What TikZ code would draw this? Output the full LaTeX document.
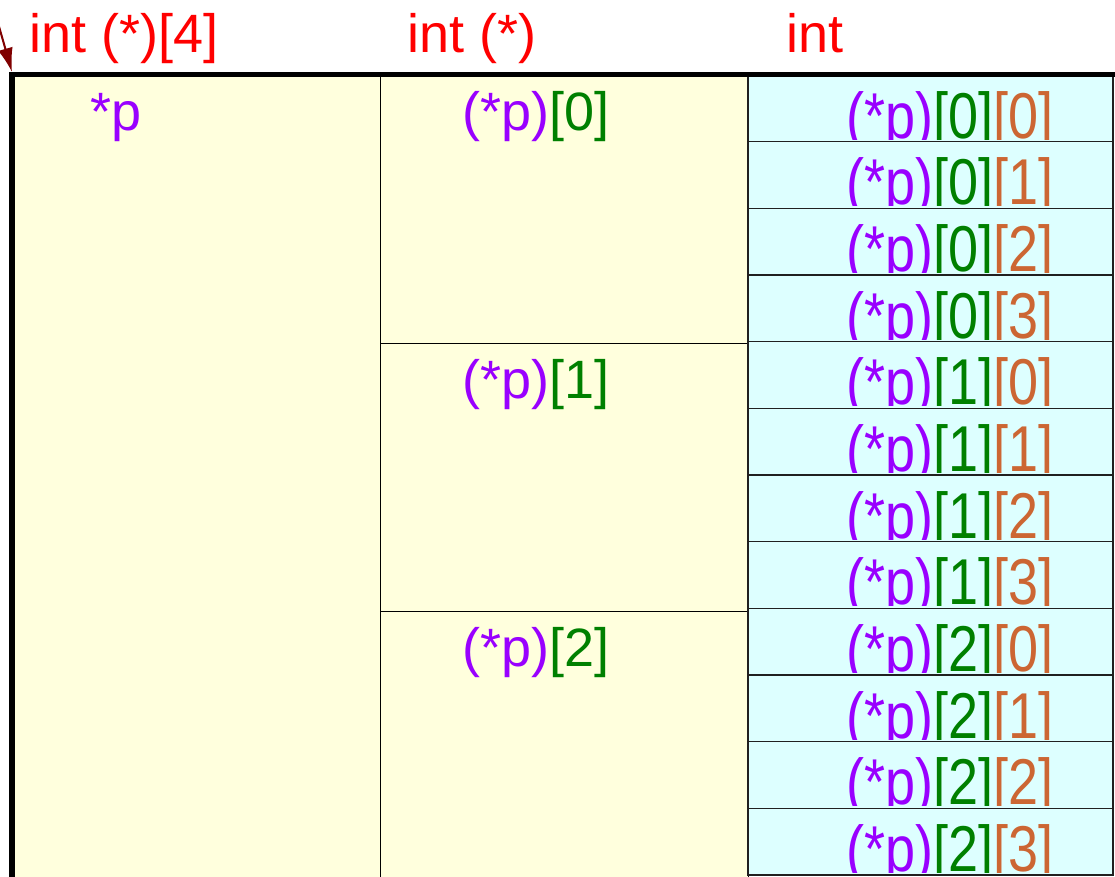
\documentclass[tikz,border=0pt]{standalone}
\usepackage{fontspec}
\setmainfont{Liberation Sans}
\usetikzlibrary{arrows.meta}
\definecolor{hdr}{HTML}{FF0000}
\definecolor{ptr}{HTML}{9900FF}
\definecolor{idxa}{HTML}{008000}
\definecolor{idxb}{HTML}{CC6633}
\definecolor{yel}{HTML}{FFFFDD}
\definecolor{cya}{HTML}{DDFFFF}
\definecolor{arr}{HTML}{800000}
\definecolor{cellline}{HTML}{202020}
\tikzset{
  txt/.style={inner sep=0pt, anchor=base, font=\fontsize{54}{60}\selectfont},
  hdrtxt/.style={txt, text=hdr},
  yelcell/.style={fill=yel, draw=black, line width=1pt},
  cyacell/.style={fill=cya, draw=cellline, line width=1.5pt},
  frameline/.style={line width=5.5pt, black},
  ptrarrow/.style={draw=arr, line width=2pt, -{Latex[length=24pt,width=15pt]}}
}
\newcommand{\ptrp}{\textcolor{ptr}{(*p)}}
\begin{document}
\begin{tikzpicture}[x=1pt,y=-1pt]
\clip (0,0) rectangle (1115,876);
\fill[white] (0,0) rectangle (1115,876);
% headers
\node[hdrtxt] (h1) at (124,52) {int (*)[4]};
\node[hdrtxt] (h2) at (472,52) {int (*)};
\node[hdrtxt] (h3) at (815,52) {int};
% column 1
\path[yelcell] (12,75) rectangle (380,890);
\node[txt, text=ptr] (c1) at (116,130) {*p};
% column 2
\foreach \k in {0,1,2}{
  \pgfmathsetmacro{\top}{75+268*\k}
  \path[yelcell] (380,\top) rectangle (748,\top+268);
  \node[txt] (c2-\k) at (536,\top+55) {\ptrp\textcolor{idxa}{[\k]}};
}
% column 3
\foreach \k in {0,1,2}{
  \foreach \j in {0,1,2,3}{
    \pgfmathsetmacro{\top}{75+66.667*(4*\k+\j)}
    \path[cyacell] (748,\top) rectangle (1113,\top+66.667);
    \begin{scope}
      \clip (749,\top+1) rectangle (1112,\top+64);
      \node[txt] (c3-\k-\j) at (950,\top+63) {\scalebox{1}[1.2]{\ptrp\textcolor{idxa}{[\k]}\textcolor{idxb}{[\j]}}};
    \end{scope}
  }
}
% frame
\draw[frameline] (12,880) -- (12,74.5) -- (1120,74.5);
\coordinate (frame) at (12,72);
\coordinate (src) at (-3,19.5);
\draw[ptrarrow] (src) -- (frame);
\end{tikzpicture}
\end{document}
